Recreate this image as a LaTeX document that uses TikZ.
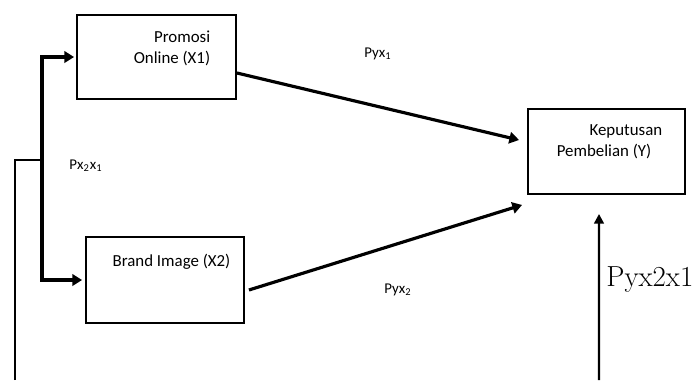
\documentclass[tikz,border=0pt]{standalone}
\usepackage{fontspec}
\setmainfont{Carlito}
\usepackage{tikz}
\usetikzlibrary{arrows.meta}
\newfontfamily\lmfont{Latin Modern Roman}

\begin{document}
\begin{tikzpicture}[x=0.02cm, y=-0.02cm, font=\fontsize{9.6}{12}\selectfont,
  box/.style={draw, line width=1.1pt, inner sep=0pt},
  arr/.style={line width=1.8pt, -{Triangle[length=5.5pt, width=6.5pt]}},
  lbl/.style={font=\fontsize{8.5}{10}\selectfont, inner sep=0pt}]
  \useasboundingbox (0,0) rectangle (694,380);
  % Boxes
  \node[box, minimum width=3.18cm, minimum height=1.68cm] (x1) at (156.5,57) {};
  \node[box, minimum width=3.16cm, minimum height=1.72cm] (x2) at (165,280) {};
  \node[box, minimum width=3.14cm, minimum height=1.70cm] (y) at (606.5,151.5) {};
  % Box texts
  \node[align=center, inner sep=0pt] (t1) at (172,48) {\hspace*{1.2em}Promosi\\Online (X1)};
  \node[inner sep=0pt] (t2) at (171.5,262) {Brand Image (X2)};
  \node[align=center, inner sep=0pt] (t3) at (604,142) {\hspace*{2.6em}Keputusan\\Pembelian (Y)};
  % Split point and free ends
  \coordinate (split) at (42,160);
  \coordinate (base) at (15,380);
  \coordinate (foot) at (599,380);
  % Connectors
  \draw[arr] (split) |- ([xshift=-0.04cm]x1.west);
  \draw[arr] (split) |- ([xshift=-0.06cm]x2.west);
  \draw[line width=1.3pt] (base) |- (split);
  \draw[arr] ([yshift=-0.32cm]x1.east) -- ([xshift=-0.16cm, yshift=0.23cm]y.west);
  \draw[arr] ([xshift=0.08cm, yshift=-0.2cm]x2.east) -- ([xshift=-0.1cm, yshift=-0.2cm]y.south west);
  \draw[line width=1.3pt, -{Triangle[length=5.5pt, width=5.5pt]}] (foot) -- ([xshift=-0.15cm, yshift=-0.38cm]y.south);
  % Labels
  \node[lbl] (pyx1) at (378,54) {Pyx\textsubscript{1}};
  \node[lbl] (px2x1) at (86,166) {Px\textsubscript{2}x\textsubscript{1}};
  \node[lbl] (pyx2) at (398,290) {Pyx\textsubscript{2}};
  \node[anchor=west, inner sep=0pt, font=\lmfont\fontsize{16.5}{20}\selectfont] (pyx2x1) at (606,280) {Pyx2x1};
\end{tikzpicture}
\end{document}
